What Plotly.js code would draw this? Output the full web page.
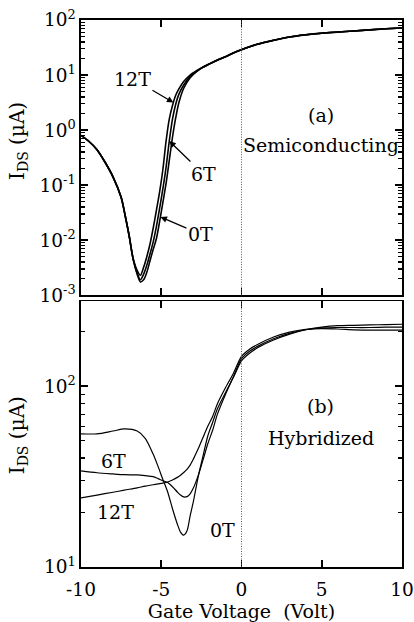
<!DOCTYPE html>
<html>
<head>
<meta charset="utf-8">
<script src="https://cdn.plot.ly/plotly-3.0.1.min.js"></script>
<style>html,body{margin:0;padding:0;background:#fff;}#chart{width:414px;height:622px;}</style>
</head>
<body>
<div id="chart"></div>
<script>
// ---- Panel (a) Semiconducting: gate voltage (V) and I_DS (µA)
const vA = [-10, -9.5, -9, -8.5, -8, -7.5, -7.25, -7, -6.75, -6.5, -6.3, -6.1, -5.9, -5.7, -5.5, -5.3, -5.1, -4.9, -4.7, -4.5, -4.3, -4.1, -3.9, -3.6, -3.2, -2.8, -2.4, -2, -1.5, -1, -0.5, 0, 1, 2, 3, 4, 5, 6, 7, 8, 9, 10];
const a0T = [0.8, 0.62, 0.44, 0.26, 0.14, 0.060, 0.028, 0.012, 0.0045, 0.0024, 0.00174, 0.0019, 0.0026, 0.0042, 0.0068, 0.0107, 0.022, 0.048, 0.107, 0.28, 0.74, 1.66, 3.16, 5.75, 8.9, 11.5, 13.8, 15.8, 18.6, 21.4, 25.1, 28.8, 36.3, 42.7, 49, 53.7, 57.5, 60.3, 63.1, 66.1, 69.2, 71.6];
const a6T = [0.8, 0.62, 0.44, 0.26, 0.14, 0.060, 0.028, 0.012, 0.0045, 0.0025, 0.0019, 0.0024, 0.0035, 0.0056, 0.0093, 0.0178, 0.038, 0.085, 0.21, 0.63, 1.58, 2.95, 4.5, 6.6, 9.5, 11.7, 13.9, 15.9, 18.7, 21.5, 25.2, 28.9, 36.4, 42.8, 49.1, 53.8, 57.6, 60.4, 63.2, 66.2, 69.3, 71.7];
const a12T = [0.8, 0.62, 0.44, 0.26, 0.14, 0.060, 0.028, 0.012, 0.0046, 0.0028, 0.0023, 0.0032, 0.0050, 0.0085, 0.0166, 0.035, 0.076, 0.19, 0.63, 1.58, 2.8, 4.3, 5.6, 7.6, 10, 12, 14, 16, 18.8, 21.6, 25.3, 29, 36.5, 42.9, 49.2, 53.9, 57.7, 60.5, 63.3, 66.3, 69.4, 71.8];

// ---- Panel (b) Hybridized
const vB = [-10, -9, -8, -7.3, -6.5, -6, -5.5, -5.2, -4.9, -4.6, -4.3, -4, -3.8, -3.6, -3.4, -3.2, -3, -2.7, -2.4, -2.1, -1.8, -1.5, -1, -0.5, 0, 0.5, 1, 2, 3, 4, 5, 6, 7, 8, 9, 10];
const b0T = [54.5, 54.5, 56.5, 58, 56.5, 51.5, 42, 36, 30.5, 26, 21, 17.3, 15.6, 15.0, 15.8, 19.2, 23, 31.5, 41, 53, 63, 75, 92, 112, 138, 152, 163, 180, 194, 205, 212, 216, 217, 218, 219, 220];
const b6T = [34, 33.2, 32.7, 32.4, 32.3, 32, 31.6, 30.8, 30, 29.3, 27.8, 26, 25, 24.4, 24.5, 25.4, 27.3, 32, 39, 48, 57, 70, 90, 113, 142, 156, 166, 183, 196, 205, 210, 211, 211, 211, 212, 212];
const b12T = [24.1, 25, 25.9, 26.6, 27.4, 28, 28.5, 28.8, 29.1, 29.5, 30.3, 31.3, 32.2, 33.3, 34.7, 36.6, 39.5, 45, 52, 60, 68, 80, 98, 118, 146, 160, 170, 187, 199, 206, 208, 207, 205, 204, 204, 204];

// ---- Tick labels
const xTickVals = [-10, -5, 0, 5, 10];
const xTickText = ['-10', '-5', '0', '5', '10'];
const yATickVals = [0.001, 0.01, 0.1, 1, 10, 100];
const yATickText = ['10<sup>-3</sup>', '10<sup>-2</sup>', '10<sup>-1</sup>', '10<sup>0</sup>', '10<sup>1</sup>', '10<sup>2</sup>'];
const yBTickVals = [10, 100];
const yBTickText = ['10<sup>1</sup>', '10<sup>2</sup>'];

const FONT = 'DejaVu Serif, Liberation Serif, serif';

function line(x, y, xa, ya, w) {
  return {x: x, y: y, xaxis: xa, yaxis: ya, type: 'scatter', mode: 'lines',
          line: {color: 'black', width: w, shape: 'spline', smoothing: 0.8},
          showlegend: false, hoverinfo: 'skip'};
}

const data = [
  line(vA, a0T, 'x2', 'y2', 1.6),
  line(vA, a6T, 'x2', 'y2', 1.6),
  line(vA, a12T, 'x2', 'y2', 1.6),
  line(vB, b0T, 'x', 'y', 1.2),
  line(vB, b6T, 'x', 'y', 1.2),
  line(vB, b12T, 'x', 'y', 1.2)
];

const TF = {family: FONT, size: 18.5, color: 'black'};
const xCommon = {range: [-10, 10], showline: true, linecolor: 'black', linewidth: 1.6, mirror: 'ticks',
  ticks: 'inside', ticklen: 7, tickwidth: 1.6, tickcolor: 'black', showgrid: false, zeroline: false,
  tickmode: 'array', tickvals: xTickVals, ticktext: xTickText, tickfont: TF, ticklabelstandoff: 5};
const yCommon = {type: 'log', showline: true, linecolor: 'black', linewidth: 1.6, mirror: 'ticks',
  ticks: 'inside', ticklen: 7, tickwidth: 1.6, tickcolor: 'black', showgrid: false, zeroline: false,
  tickmode: 'array', tickfont: TF,
  minor: {dtick: 'D1', ticks: 'inside', ticklen: 4, tickwidth: 1.3, tickcolor: 'black', showgrid: false}};

const annFont = {family: FONT, size: 19, color: 'black'};
const layout = {
  width: 414, height: 622,
  margin: {l: 81, r: 12, t: 20, b: 55},
  paper_bgcolor: 'white', plot_bgcolor: 'white',
  font: {family: FONT, color: 'black'},
  xaxis: Object.assign({}, xCommon, {anchor: 'y', domain: [0, 1],
    title: {text: 'Gate Voltage\u00a0\u00a0(Volt)', font: {family: FONT, size: 19, color: 'black'}, standoff: 2}}),
  yaxis: Object.assign({}, yCommon, {anchor: 'x', domain: [0, 0.486], range: [1, 2.47],
    tickvals: yBTickVals, ticktext: yBTickText}),
  xaxis2: Object.assign({}, xCommon, {anchor: 'y2', domain: [0, 1], showticklabels: false}),
  yaxis2: Object.assign({}, yCommon, {anchor: 'x2', domain: [0.497, 1], range: [-3, 2],
    tickvals: yATickVals, ticktext: yATickText}),
  shapes: [
    {type: 'line', xref: 'x', yref: 'y domain', x0: 0, x1: 0, y0: 0, y1: 1, line: {color: '#555', width: 1, dash: '1px,1.5px'}},
    {type: 'line', xref: 'x2', yref: 'y2 domain', x0: 0, x1: 0, y0: 0, y1: 1, line: {color: '#555', width: 1, dash: '1px,1.5px'}}
  ],
  annotations: [
    // panel (a)
    {xref: 'x2', yref: 'y2', x: -4.24, y: 0.5, ax: -41, ay: -24, text: '12T', showarrow: true,
     arrowhead: 2, arrowsize: 1, arrowwidth: 1.3, arrowcolor: 'black', standoff: 0, font: annFont},
    {xref: 'x2', yref: 'y2', x: -4.5, y: -0.2, ax: 34, ay: 33, text: '6T', showarrow: true,
     arrowhead: 2, arrowsize: 1, arrowwidth: 1.3, arrowcolor: 'black', standoff: 0, font: annFont},
    {xref: 'x2', yref: 'y2', x: -5.05, y: -1.58, ax: 40, ay: 17, text: '0T', showarrow: true,
     arrowhead: 2, arrowsize: 1, arrowwidth: 1.3, arrowcolor: 'black', standoff: 0, font: annFont},
    {xref: 'x2', yref: 'y2', x: 4.93, y: 0.27, text: '(a)', showarrow: false, font: annFont},
    {xref: 'x2', yref: 'y2', x: 4.93, y: -0.27, text: 'Semiconducting', showarrow: false, font: annFont},
    // panel (b)
    {xref: 'x', yref: 'y', x: -7.97, y: 1.588, text: '6T', showarrow: false, font: annFont},
    {xref: 'x', yref: 'y', x: -7.86, y: 1.304, text: '12T', showarrow: false, font: annFont},
    {xref: 'x', yref: 'y', x: -1.2, y: 1.203, text: '0T', showarrow: false, font: annFont},
    {xref: 'x', yref: 'y', x: 4.93, y: 1.89, text: '(b)', showarrow: false, font: annFont},
    {xref: 'x', yref: 'y', x: 4.93, y: 1.716, text: 'Hybridized', showarrow: false, font: annFont},
    // y-axis titles
    {xref: 'paper', yref: 'paper', x: -0.196, y: 0.779, xanchor: 'center', yanchor: 'middle', textangle: -90,
     text: 'I<sub>DS</sub> (\u00b5A)', showarrow: false, font: {family: FONT, size: 20, color: 'black'}},
    {xref: 'paper', yref: 'paper', x: -0.196, y: 0.241, xanchor: 'center', yanchor: 'middle', textangle: -90,
     text: 'I<sub>DS</sub> (\u00b5A)', showarrow: false, font: {family: FONT, size: 20, color: 'black'}}
  ]
};

Plotly.newPlot('chart', data, layout, {staticPlot: true, displayModeBar: false});
</script>
</body>
</html>
